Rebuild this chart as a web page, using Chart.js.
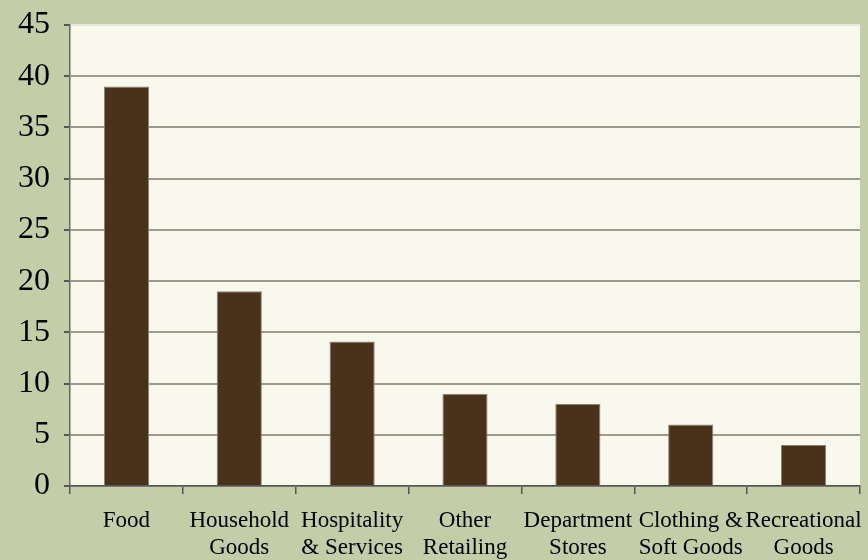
<!DOCTYPE html>
<html>
<head>
<meta charset="utf-8">
<script src="https://cdn.jsdelivr.net/npm/chart.js@4"></script>
<style>
  html, body { margin: 0; padding: 0; background: #c3cea9; }
  #wrap { width: 868px; height: 560px; }
</style>
</head>
<body>
<div id="wrap"><canvas id="salesChart" width="868" height="560"></canvas></div>
<script>
// chart data
const categories = [
    ['Food'],
    ['Household', 'Goods'],
    ['Hospitality', '& Services'],
    ['Other', 'Retailing'],
    ['Department', 'Stores'],
    ['Clothing &', 'Soft Goods'],
    ['Recreational', 'Goods']
];
const shares = [39, 19, 14.1, 9, 8, 6, 4];
const yTicks = [0, 5, 10, 15, 20, 25, 30, 35, 40, 45];

// cream plot area behind the bars
const plotBg = {
    id: 'plotBg',
    beforeDraw(chart) {
        const a = chart.chartArea;
        const c = chart.ctx;
        c.save();
        c.fillStyle = '#f8f9ec';
        c.fillRect(a.left, a.top, a.right - a.left, a.bottom - a.top);
        c.restore();
    }
};

const ctx = document.getElementById('salesChart');
new Chart(ctx, {
    type: 'bar',
    data: {
        labels: categories,
        datasets: [{
            data: shares,
            backgroundColor: '#4a3119',
            borderColor: '#8a8476',
            borderWidth: 1,
            categoryPercentage: 0.4,
            barPercentage: 1.0
        }]
    },
    options: {
        responsive: false,
        animation: false,
        layout: { padding: { top: 25, right: 8, bottom: 0, left: 0 } },
        plugins: {
            legend: { display: false },
            tooltip: { enabled: false }
        },
        scales: {
            x: {
                offset: true,
                grid: {
                    offset: true,
                    drawOnChartArea: false,
                    color: '#555',
                    tickLength: 8,
                    lineWidth: 1.5
                },
                border: { color: '#555', width: 1.5 },
                ticks: {
                    autoSkip: false,
                    maxRotation: 0,
                    minRotation: 0,
                    color: '#000',
                    padding: 13,
                    font: { family: 'Liberation Serif', size: 23, lineHeight: 1.2 }
                },
                afterFit(scale) {
                    scale.height = 74;
                    scale.paddingLeft = 0;
                    scale.paddingRight = 0;
                }
            },
            y: {
                min: 0,
                max: 45,
                afterBuildTicks(scale) {
                    scale.ticks = yTicks.map(v => ({ value: v }));
                },
                grid: {
                    // top line is barely visible in the original
                    color: c => (c.tick && c.tick.value === 45) ? '#e6e8d8' : '#a09a8c',
                    tickColor: '#555',
                    lineWidth: 2,
                    tickLength: 6
                },
                border: { color: '#666', width: 1.5 },
                ticks: {
                    color: '#000',
                    padding: 14,
                    font: { family: 'Liberation Serif', size: 32 }
                },
                afterFit(scale) {
                    scale.width = 70;
                    scale.paddingTop = 0;
                    scale.paddingBottom = 0;
                }
            }
        }
    },
    plugins: [plotBg]
});
</script>
</body>
</html>
